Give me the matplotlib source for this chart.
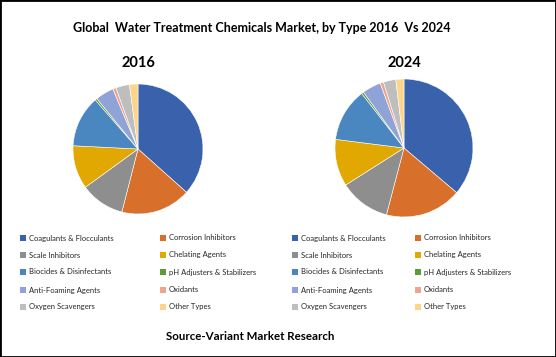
import matplotlib.pyplot as plt
from matplotlib.patches import Rectangle

plt.rcParams['font.family'] = ['Lato', 'DejaVu Sans']

types = ['Coagulants & Flocculants', 'Corrosion Inhibitors', 'Scale Inhibitors',
         'Chelating Agents', 'Biocides & Disinfectants', 'pH Adjusters & Stabilizers',
         'Anti-Foaming Agents', 'Oxidants', 'Oxygen Scavengers', 'Other Types']
share_2016 = [36.6, 17.4, 11.0, 10.8, 12.8, 0.5, 4.6, 0.8, 3.4, 2.1]
share_2024 = [36.2, 17.9, 11.9, 11.0, 12.5, 0.5, 4.4, 0.8, 2.9, 1.9]
colors = ['#3A62AC', '#D86F2A', '#8E8E8E', '#E0A800', '#4A86C0',
          '#5E9A3C', '#8FA3D6', '#EFA58C', '#BEBEBE', '#FCD58A']

W, H = 556, 357
fig = plt.figure(figsize=(W / 100, H / 100), dpi=100)
fig.patches.append(Rectangle((0, 0), 1, 1, transform=fig.transFigure,
                             fill=False, edgecolor='black', linewidth=2))

fig.text(262 / W, 1 - 28 / H, 'Global  Water Treatment Chemicals Market, by Type 2016  Vs 2024',
         ha='center', va='center', fontsize=9, fontweight='bold')
fig.text(250 / W, 1 - 337 / H, 'Source-Variant Market Research',
         ha='center', va='center', fontsize=8.3, fontweight='bold')


def draw_pie(cx, cy, r, values, year):
    ax = fig.add_axes([(cx - r) / W, 1 - (cy + r) / H, 2 * r / W, 2 * r / H])
    ax.pie(values, colors=colors, startangle=90, counterclock=False,
           wedgeprops=dict(edgecolor='white', linewidth=0.4))
    ax.set_xlim(-1, 1)
    ax.set_ylim(-1, 1)
    ax.set_aspect('auto')
    fig.text(cx / W, 1 - 63 / H, year, ha='center', va='center',
             fontsize=10.5, fontweight='bold')


draw_pie(138, 149, 65, share_2016, '2016')
draw_pie(404, 148, 69, share_2024, '2024')

rows = [238, 255, 272, 290, 307]
for x0, x1 in [(20, 160), (292, 415)]:
    for i, name in enumerate(types):
        x = x0 if i % 2 == 0 else x1
        y = rows[i // 2]
        fig.patches.append(Rectangle((x / W, 1 - (y + 3) / H), 6 / W, 6 / H,
                                     transform=fig.transFigure,
                                     facecolor=colors[i], edgecolor='none'))
        fig.text((x + 9) / W, 1 - y / H, name, ha='left', va='center',
                 fontsize=5.5, color='#262626')

fig.savefig('out.png', dpi=100)
